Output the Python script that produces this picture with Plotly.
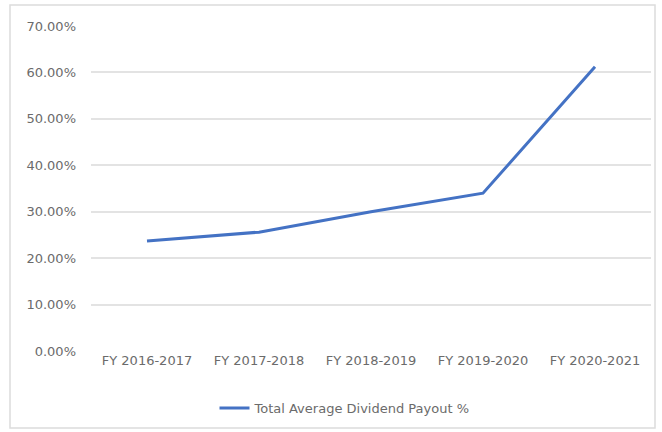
import plotly.graph_objects as go

categories = ["FY 2016-2017", "FY 2017-2018", "FY 2018-2019", "FY 2019-2020", "FY 2020-2021"]
payout = [0.237, 0.256, 0.300, 0.340, 0.612]
series_name = "Total Average Dividend Payout %"
y_ticks = [0, 0.1, 0.2, 0.3, 0.4, 0.5, 0.6, 0.7]

W, H = 662, 432
L, R, T, B = 91, 11, 26, 81
pw, ph = W - L - R, H - T - B

def px_x(x):
    return (x - L) / pw

def px_y(y):
    return (H - B - y) / ph

fig = go.Figure()
fig.add_trace(go.Scatter(
    x=categories, y=payout, mode="lines", name=series_name,
    line=dict(color="#4472C4", width=3),
    showlegend=True,
))

fig.update_layout(
    width=W, height=H,
    margin=dict(l=L, r=R, t=T, b=B, autoexpand=False),
    paper_bgcolor="white", plot_bgcolor="white",
    font=dict(family="DejaVu Sans", size=13, color="#6b6b6b"),
    showlegend=True,
    legend=dict(orientation="h", x=px_x(345), y=px_y(408), xanchor="center", yanchor="middle",
                font=dict(size=13, color="#6b6b6b"), bgcolor="rgba(0,0,0,0)"),
    xaxis=dict(type="category", range=[-0.5, 4.5], showgrid=False, zeroline=False, showline=False,
               ticks="", automargin=False, tickfont=dict(size=13)),
    yaxis=dict(range=[0, 0.7], tickvals=y_ticks, tickformat=".2%", showgrid=True,
               gridcolor="#e3e3e3", gridwidth=1.5, zeroline=False, showline=False,
               ticks="", automargin=False, ticklabelstandoff=14, tickfont=dict(size=13)),
    shapes=[dict(type="rect", xref="paper", yref="paper",
                 x0=px_x(10), x1=px_x(655), y0=px_y(428), y1=px_y(5),
                 line=dict(color="#dcdcdc", width=1.5), fillcolor="rgba(0,0,0,0)", layer="below")],
)

fig.write_html("out.html", config={"displayModeBar": False},
               post_script="document.body.style.margin='0';document.body.style.overflow='hidden';")
